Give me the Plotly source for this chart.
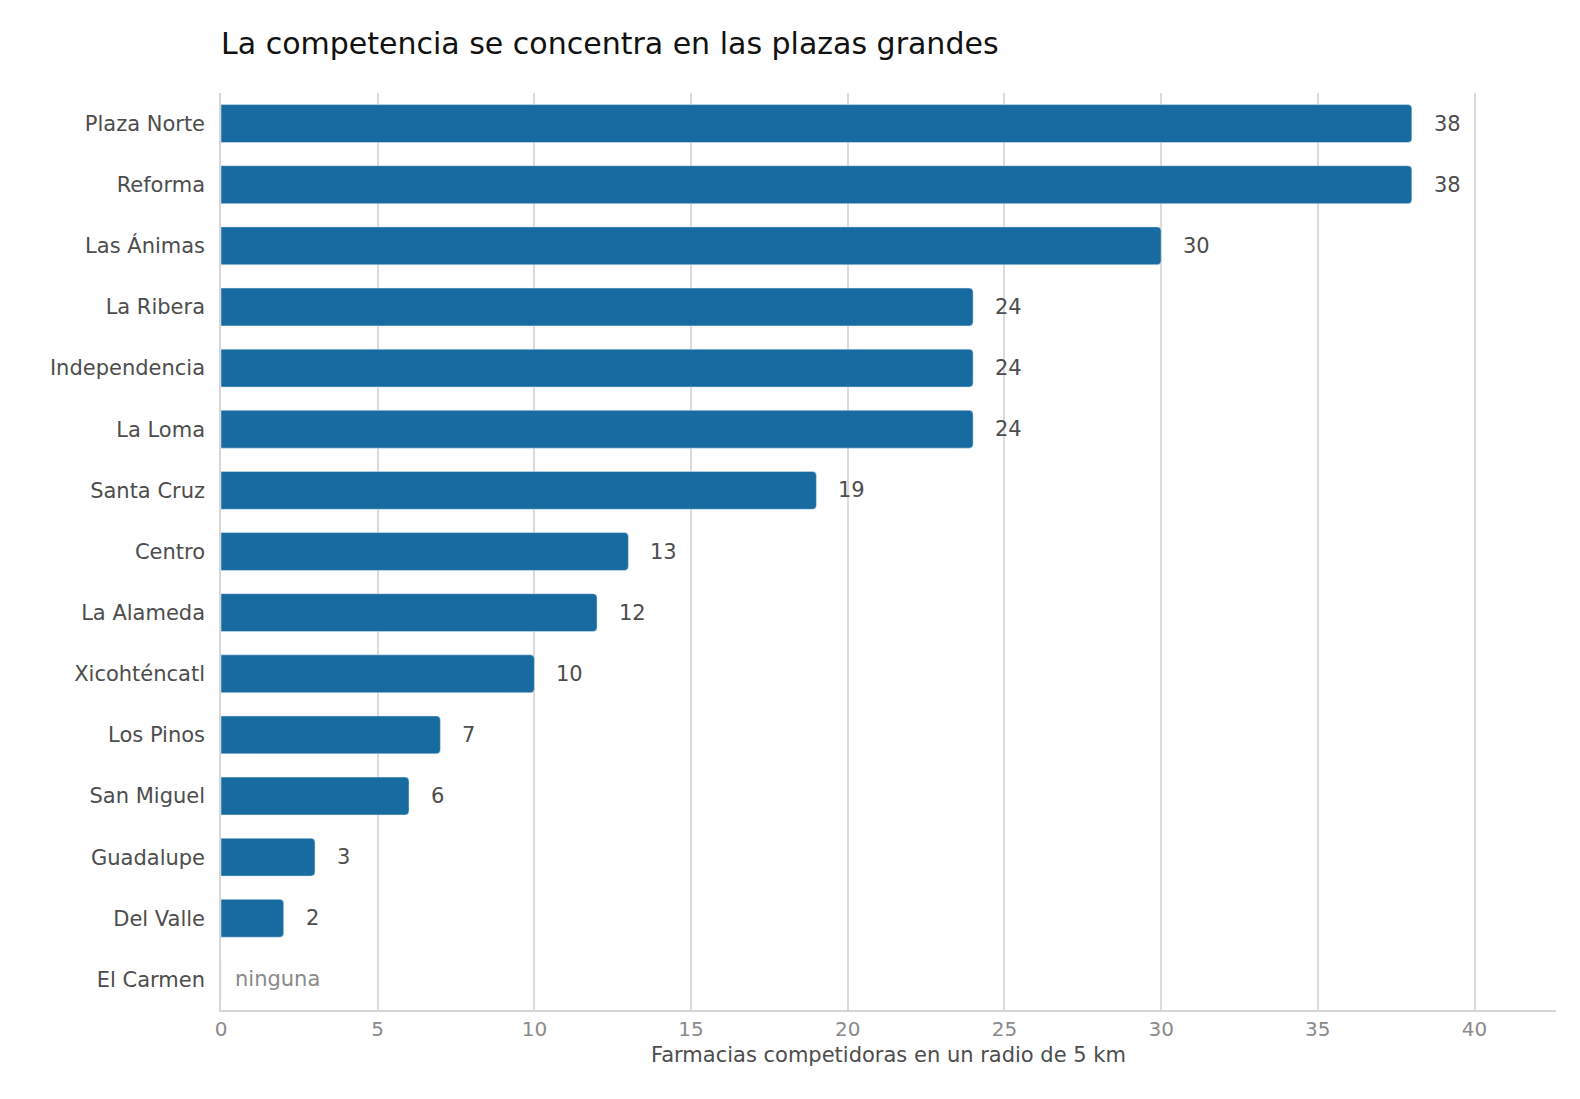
import plotly.graph_objects as go

plazas = ['Plaza Norte', 'Reforma', 'Las Ánimas', 'La Ribera', 'Independencia', 'La Loma',
          'Santa Cruz', 'Centro', 'La Alameda', 'Xicohténcatl', 'Los Pinos', 'San Miguel',
          'Guadalupe', 'Del Valle', 'El Carmen']
competidores = [38, 38, 30, 24, 24, 24, 19, 13, 12, 10, 7, 6, 3, 2, 0]

fig = go.Figure()
fig.add_trace(go.Bar(
    x=competidores, y=plazas, orientation='h',
    marker=dict(color='#176ba0', cornerradius=4),
    width=0.62, hoverinfo='skip'
))

for p, v in zip(plazas, competidores):
    if v > 0:
        fig.add_annotation(x=v, y=p, text=str(v), showarrow=False, xanchor='left', xshift=20,
                           font=dict(size=21, color='#4d4d4d'))
    else:
        fig.add_annotation(x=0, y=p, text='ninguna', showarrow=False, xanchor='left', xshift=12,
                           font=dict(size=21, color='#8a8a8a'))

fig.update_layout(
    width=1580, height=1099,
    margin=dict(l=213, r=32, t=85, b=97),
    plot_bgcolor='white', paper_bgcolor='white',
    font=dict(family='DejaVu Sans', color='#4d4d4d'),
    title=dict(text='La competencia se concentra en las plazas grandes', x=213/1580, xanchor='left',
               y=0.968, yanchor='middle', font=dict(size=30, color='#111111')),
    showlegend=False,
)
fig.update_xaxes(range=[0, 42.6], dtick=5, showgrid=True, gridcolor='#dcdcd6', gridwidth=1.5,
                 zeroline=False, showline=True, linecolor='#d6d6d6', linewidth=1.5,
                 ticks='', tickfont=dict(size=20, color='#8a8a8a'),
                 title=dict(text='Farmacias competidoras en un radio de 5 km', font=dict(size=21, color='#4d4d4d'), standoff=8))
fig.update_yaxes(autorange='reversed', showgrid=False, showline=True, linecolor='#d6d6d6', linewidth=1.5,
                 ticks='', ticklabelstandoff=10, tickfont=dict(size=21, color='#4d4d4d'))

fig.write_html("out.html")
